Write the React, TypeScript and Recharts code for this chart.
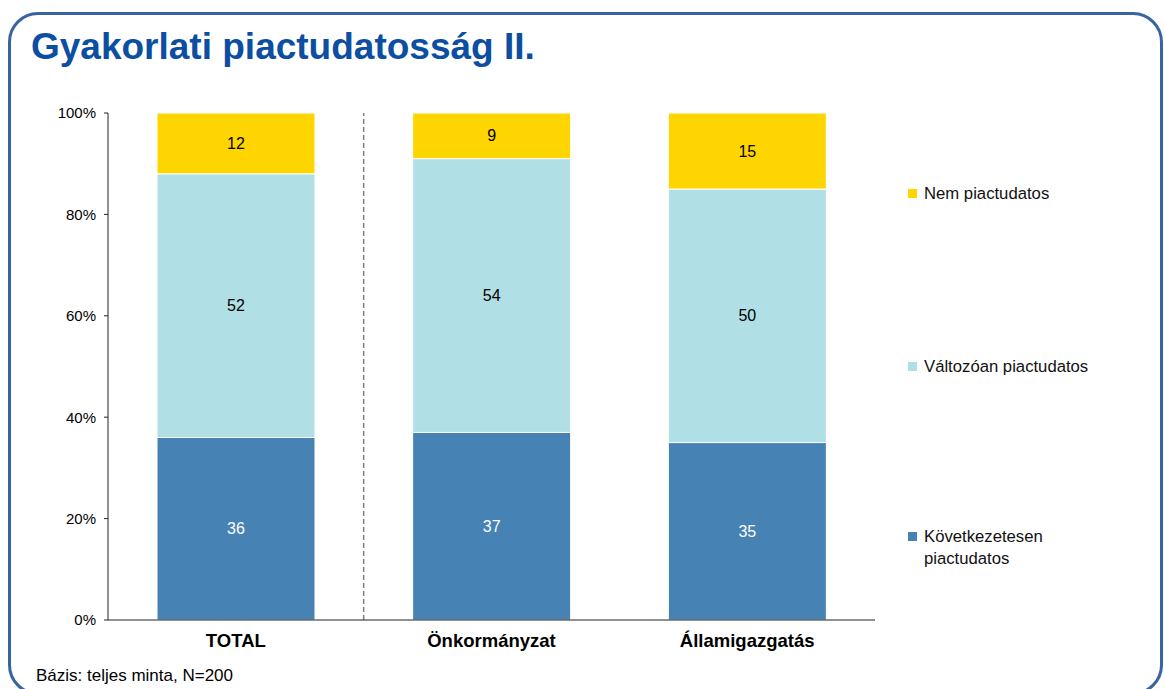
import { BarChart, Bar, XAxis, YAxis, ReferenceLine, LabelList } from 'recharts';

const categories = ['TOTAL', 'Önkormányzat', 'Államigazgatás'];
const kovetkezetesen = [36, 37, 35];
const valtozoan = [52, 54, 50];
const nemPiactudatos = [12, 9, 15];
const yTicks = [0, 20, 40, 60, 80, 100];

const SERIES = [
  { key: 'kov', name: 'Következetesen piactudatos', lines: ['Következetesen', 'piactudatos'], color: '#4682B4', label: '#ffffff' },
  { key: 'val', name: 'Változóan piactudatos', lines: ['Változóan piactudatos'], color: '#B0DFE5', label: '#000000' },
  { key: 'nem', name: 'Nem piactudatos', lines: ['Nem piactudatos'], color: '#FFD500', label: '#000000' },
];

// legend rows sit next to the segments, top to bottom
const LEGEND_TOPS: Record<string, number> = { nem: 193, val: 366, kov: 536 };

const data = categories.map((name, i) => ({
  name,
  kov: kovetkezetesen[i],
  val: valtozoan[i],
  nem: nemPiactudatos[i],
}));

const FONT = '"Liberation Sans", Arial, sans-serif';

export default function App() {
  return (
    <div
      style={{
        position: 'absolute',
        left: 0,
        top: 0,
        width: 1165,
        height: 689,
        overflow: 'hidden',
        background: '#fff',
        fontFamily: FONT,
      }}
    >
      <div
        style={{
          position: 'absolute',
          left: 8,
          top: 12,
          width: 1155,
          height: 683,
          boxSizing: 'border-box',
          border: '3px solid #3A64A0',
          borderRadius: 30,
        }}
      />
      <div
        style={{
          position: 'absolute',
          left: 31,
          top: 28,
          fontSize: 37,
          lineHeight: 1,
          fontWeight: 'bold',
          color: '#0B4EA2',
          whiteSpace: 'nowrap',
        }}
      >
        Gyakorlati piactudatosság II.
      </div>

      <div style={{ position: 'absolute', left: 0, top: 0 }}>
        <BarChart
          width={1165}
          height={689}
          data={data}
          margin={{ top: 113, right: 290, bottom: 29, left: 48 }}
        >
          <XAxis
            dataKey="name"
            axisLine={{ stroke: '#222' }}
            tickLine={false}
            tickSize={6}
            tickMargin={8}
            height={40}
            tick={{ fontSize: 18.5, fontWeight: 'bold', fill: '#000' }}
          />
          <YAxis
            type="number"
            domain={[0, 100]}
            ticks={yTicks}
            width={60}
            axisLine={{ stroke: '#222' }}
            tickLine={{ stroke: '#222' }}
            tickSize={4}
            tickMargin={8}
            tickFormatter={(v) => `${v}%`}
            tick={{ fontSize: 15, fill: '#000' }}
          />
          <ReferenceLine
            x="TOTAL"
            position="end"
            stroke="#808080"
            strokeWidth={1.5}
            strokeDasharray="5 3"
          />
          {SERIES.map((s) => (
            <Bar
              key={s.key}
              dataKey={s.key}
              name={s.name}
              stackId="a"
              fill={s.color}
              stroke="#ffffff"
              strokeWidth={1}
              barSize={158}
              isAnimationActive={false}
            >
              <LabelList dataKey={s.key} position="center" fill={s.label} fontSize={16} />
            </Bar>
          ))}
        </BarChart>
      </div>

      {[...SERIES].reverse().map((s) => (
        <div
          key={s.key}
          style={{
            position: 'absolute',
            left: 908,
            top: LEGEND_TOPS[s.key] - 10,
            display: 'flex',
            alignItems: 'flex-start',
            fontSize: 16.7,
            lineHeight: '22px',
            color: '#111',
          }}
        >
          <span
            style={{
              display: 'inline-block',
              width: 9,
              height: 9,
              marginTop: 6,
              marginRight: 7,
              background: s.color,
            }}
          />
          <span>
            {s.lines.map((l) => (
              <div key={l}>{l}</div>
            ))}
          </span>
        </div>
      ))}

      <div
        style={{
          position: 'absolute',
          left: 36,
          top: 667,
          fontSize: 17,
          lineHeight: 1,
          color: '#000',
          whiteSpace: 'nowrap',
        }}
      >
        Bázis: teljes minta, N=200
      </div>
    </div>
  );
}
